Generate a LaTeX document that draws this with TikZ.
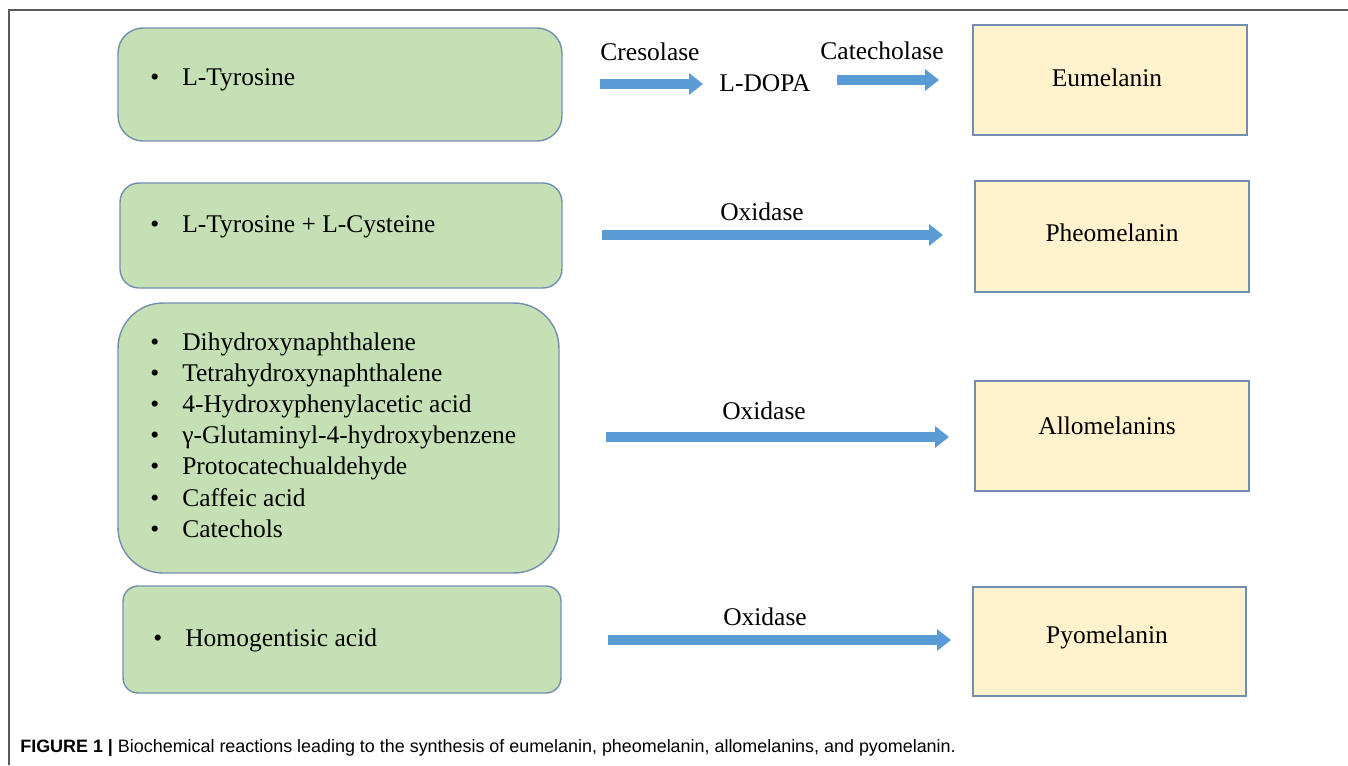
\documentclass[tikz,border=0pt]{standalone}
\usepackage{fontspec}
\setmainfont{Liberation Serif}
\newfontfamily\capfont{Liberation Sans}
\usetikzlibrary{arrows.meta}

\definecolor{srcgreen}{RGB}{197,224,180}
\definecolor{prodyellow}{RGB}{255,242,204}
\definecolor{edgeblue}{RGB}{112,143,176}
\definecolor{flowblue}{RGB}{91,155,213}
\definecolor{framegray}{RGB}{90,90,90}

\tikzset{
    srcbox/.style={draw=edgeblue, line width=0.8pt, fill=srcgreen, inner sep=0pt},
    prodbox/.style={draw=edgeblue, line width=0.8pt, fill=prodyellow, inner sep=0pt},
    flow/.style={line width=0.21cm, draw=flowblue, -{Triangle[length=0.28cm,width=0.42cm]}},
    txt/.style={font=\rmfamily\fontsize{14.5}{17.6}\selectfont, inner sep=0pt},
}

\newcommand{\itm}[1]{\makebox[0.64cm][l]{•}#1}

\begin{document}
\begin{tikzpicture}[x=0.02cm, y=-0.02cm]
    \useasboundingbox (0,0) rectangle (1348,765);

    % frame
    \draw[framegray, line width=0.8pt] (9,765) -- (9,10) -- (1348,10);

    % sources
    \node[srcbox, rounded corners=0.5cm, minimum width=8.88cm, minimum height=2.26cm] (src1) at (340,84.5) {};
    \node[srcbox, rounded corners=0.38cm, minimum width=8.84cm, minimum height=2.1cm] (src2) at (341,235.5) {};
    \node[srcbox, rounded corners=0.9cm, minimum width=8.82cm, minimum height=5.4cm] (src3) at (338.5,438) {};
    \node[srcbox, rounded corners=0.3cm, minimum width=8.76cm, minimum height=2.14cm] (src4) at (342,639.5) {};

        \node[txt, anchor=base west] (tyr) at (150,85) {\itm{L-Tyrosine}};
        \node[txt, anchor=base west] (tyrcys) at (150,232) {\itm{L-Tyrosine + L-Cysteine}};
        \foreach \t [count=\i] in {Dihydroxynaphthalene, Tetrahydroxynaphthalene,
            4-Hydroxyphenylacetic acid, γ-Glutaminyl-4-hydroxybenzene,
            Protocatechualdehyde, Caffeic acid, Catechols}
            \node[txt, anchor=base west] (lst\i) at (150,{350+31.2*(\i-1)}) {\itm{\t}};
        \node[txt, anchor=base west] (hga) at (153,646) {\itm{Homogentisic acid}};

    % products
    \node[prodbox, minimum width=5.48cm, minimum height=2.2cm] (eu) at (1110,80) {};
    \node[prodbox, minimum width=5.48cm, minimum height=2.22cm] (pheo) at (1112,236.5) {};
    \node[prodbox, minimum width=5.48cm, minimum height=2.2cm] (allo) at (1112,436) {};
    \node[prodbox, minimum width=5.46cm, minimum height=2.18cm] (pyo) at (1109.5,641.5) {};

        \node[txt] (eutxt) at (1107,78) {Eumelanin};
        \node[txt] (pheotxt) at (1112,233) {Pheomelanin};
        \node[txt] (allotxt) at (1107,426) {Allomelanins};
        \node[txt] (pyotxt) at (1107,637) {Pyomelanin};

    % reactions
    \node[txt] (cres) at (650,52) {Cresolase};
    \node[txt] (dopa) at (765,83) {L-DOPA};
    \node[txt] (catl) at (882,51) {Catecholase};
    \node[txt] (ox2) at (762,212) {Oxidase};
    \node[txt] (ox3) at (764,411) {Oxidase};
    \node[txt] (ox4) at (765,617) {Oxidase};

    \coordinate (f1s) at (600,84);  \coordinate (f1e) at (703,84);
    \coordinate (f2s) at (837,80);  \coordinate (f2e) at (939,80);
    \coordinate (f3s) at (602,235); \coordinate (f3e) at (943,235);
    \coordinate (f4s) at (606,437); \coordinate (f4e) at (949,437);
    \coordinate (f5s) at (608,640); \coordinate (f5e) at (951,640);

    \draw[flow] (f1s) -- (f1e);
    \draw[flow] (f2s) -- (f2e);
    \draw[flow] (f3s) -- (f3e);
    \draw[flow] (f4s) -- (f4e);
    \draw[flow] (f5s) -- (f5e);

    % caption
    \node[anchor=base west, inner sep=0pt, font=\capfont\fontsize{10.2}{12}\selectfont] (cap) at (20,752)
        {\textbf{FIGURE 1 |} Biochemical reactions leading to the synthesis of eumelanin, pheomelanin, allomelanins, and pyomelanin.};

\end{tikzpicture}
\end{document}
